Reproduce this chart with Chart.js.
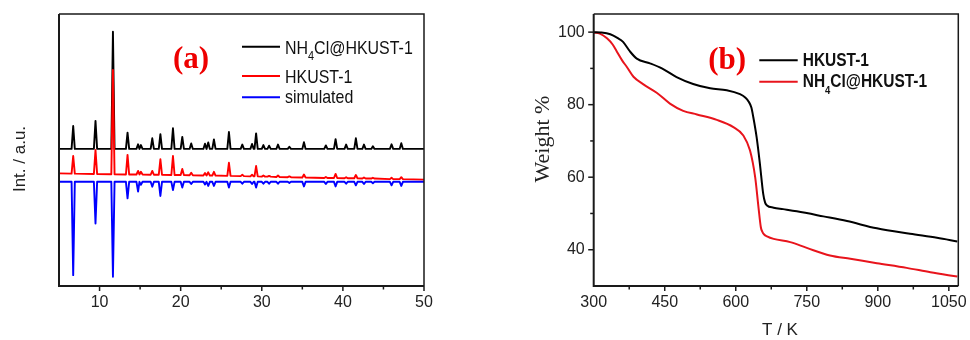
<!DOCTYPE html>
<html><head><meta charset="utf-8">
<script src="https://cdn.jsdelivr.net/npm/chart.js@4.4.0/dist/chart.umd.min.js"></script>
<style>
html,body{margin:0;padding:0;background:#fff;}
body{width:970px;height:340px;position:relative;overflow:hidden;}
canvas{position:absolute;top:0;}
#ca{left:0;} #cb{left:500px;}
</style></head><body>
<canvas id="ca" width="440" height="340"></canvas>
<canvas id="cb" width="470" height="340"></canvas>
<script>
// ---------- Panel (a): XRD patterns ----------
const xrdSeriesNames = ['NH4Cl@HKUST-1', 'HKUST-1', 'simulated'];
const xrdTheta = [5.0,
 6.55,6.75,6.95, 9.3,9.5,9.7, 11.45,11.65,11.85, 13.25,13.45,13.65,
 14.55,14.75,14.92, 14.93,15.1,15.3, 16.3,16.5,16.7, 17.3,17.5,17.7,
 18.85,19.05,19.25, 20.0,20.2,20.4, 21.1,21.3,21.5, 22.8,23.0,23.19,
 23.21,23.4,23.6, 23.9,24.1,24.3, 25.75,25.95,26.15, 27.4,27.6,27.8,
 28.6,28.8,29.0, 29.1,29.3,29.5, 30.0,30.2,30.4, 30.7,30.9,31.1,
 31.8,32.0,32.2, 33.2,33.4,33.6, 35.0,35.2,35.4, 37.7,37.9,38.1,
 38.9,39.1,39.3, 40.2,40.4,40.6, 41.4,41.6,41.8, 42.4,42.6,42.8,
 43.5,43.7,43.9, 45.8,46.0,46.2, 47.0,47.2,47.4,
 50.0];
const xrdComposite = [50.4,
 50.4,58.8,50.4, 50.4,60.7,50.4, 50.4,93.5,50.4, 50.4,56.4,50.4,
 50.4,52.1,50.4, 50.4,51.8,50.4, 50.4,54.3,50.4, 50.4,55.8,50.4,
 50.4,58.0,50.4, 50.4,54.8,50.4, 50.4,52.4,50.4, 50.4,52.3,50.4,
 50.4,52.8,50.4, 50.4,53.9,50.4, 50.4,56.6,50.4, 50.4,52.0,50.4,
 50.4,52.2,50.4, 50.4,56.1,50.4, 50.4,51.8,50.4, 50.4,51.6,50.4,
 50.4,52.0,50.4, 50.4,51.2,50.4, 50.4,52.9,50.4, 50.4,51.7,50.4,
 50.4,54.0,50.4, 50.4,52.0,50.4, 50.4,54.3,50.4, 50.4,52.0,50.4,
 50.4,51.4,50.4, 50.4,52.1,50.4, 50.4,52.5,50.4,
 50.4];
const xrdHkust = [41.4,
 41.3,47.8,41.3, 41.2,50.0,41.2, 41.1,79.4,41.1, 41.0,48.2,41.0,
 41.0,42.3,41.0, 41.0,42.0,41.0, 40.9,42.3,40.9, 40.9,46.6,40.9,
 40.8,47.8,40.8, 40.8,43.0,40.8, 40.7,41.6,40.7, 40.6,41.5,40.6,
 40.6,41.8,40.6, 40.6,42.0,40.6, 40.5,45.3,40.5, 40.4,40.9,40.4,
 40.3,40.9,40.3, 40.3,44.1,40.3, 40.2,40.6,40.2, 40.2,40.5,40.2,
 40.1,40.6,40.1, 40.0,40.3,40.0, 39.9,41.0,39.9, 39.7,40.1,39.7,
 39.7,41.2,39.7, 39.6,40.0,39.6, 39.6,40.8,39.6, 39.5,39.9,39.5,
 39.5,39.8,39.5, 39.3,39.8,39.3, 39.3,40.0,39.3,
 39.1];
const xrdSimulated = [38.3,
 38.3,4.0,38.3, 38.3,23.0,38.3, 38.3,3.4,38.3, 38.3,32.2,38.3,
 38.3,34.7,38.3, 38.3,37.2,38.3, 38.3,36.5,38.3, 38.3,33.1,38.3,
 38.3,35.3,38.3, 38.3,36.2,38.3, 38.3,37.5,38.3, 38.3,37.3,38.3,
 38.3,36.8,38.3, 38.3,36.8,38.3, 38.3,36.2,38.3, 38.3,37.6,38.3,
 38.3,37.5,38.3, 38.3,36.2,38.3, 38.3,37.6,38.3, 38.3,37.6,38.3,
 38.3,37.6,38.3, 38.3,37.9,38.3, 38.3,36.6,38.3, 38.3,37.5,38.3,
 38.3,36.6,38.3, 38.3,37.6,38.3, 38.3,37.0,38.3, 38.3,37.5,38.3,
 38.3,37.8,38.3, 38.3,37.0,38.3, 38.3,36.8,38.3,
 38.3];

// ---------- Panel (b): TGA curves ----------
const tgaSeriesNames = ['HKUST-1', 'NH4Cl@HKUST-1'];
const tgaHkustT = [300,315,335,350,362,377,391,419,444,475,510,546,581,609,620,627,633,637,644,651,658,662,666,680,700,729,785,835,898,968,1025,1068];
const tgaHkustW = [100,99.9,99.4,98.4,97.3,94.6,92.7,91.4,90.0,87.6,85.7,84.5,84.0,82.9,82.0,80.9,79.2,76.6,71.1,63.7,55.4,53.0,52.2,51.6,51.2,50.6,49.2,47.9,45.9,44.4,43.3,42.3];
const tgaCompT = [300,313,328,340,349,360,370,384,405,433,461,489,518,560,595,616,630,641,648,653,656,660,666,680,715,750,799,842,898,961,1011,1068];
const tgaCompW = [99.9,99.6,98.3,96.6,94.6,92.2,90.4,87.7,85.6,83.3,80.3,78.3,77.3,75.8,73.8,71.5,67.4,60.0,51.7,46.2,45.0,44.2,43.7,43.0,42.1,40.5,38.4,37.5,36.3,35.0,33.8,32.6];

const xTickLabelsA = [10, 20, 30, 40, 50];
const xTickLabelsB = [300, 450, 600, 750, 900, 1050];
const yTickLabelsB = [40, 60, 80, 100];

// ---------- helpers ----------
const SANS = '"Liberation Sans", Arial, sans-serif';
const SERIF = '"Liberation Serif", "Times New Roman", serif';
const AXIS = '#1a1a1a';

function pts(xs, ys) { return xs.map((x, i) => ({x: x, y: ys[i]})); }

function labelParts(name) {
  const m = name.match(/^(NH)(4)(.*)$/);
  if (m) return [{t: m[1]}, {t: m[2], sub: true}, {t: m[3]}];
  return [{t: name}];
}

function drawRich(ctx, x, y, name, font, subFont, subDy, sx, color) {
  ctx.save();
  ctx.translate(x, y);
  ctx.scale(sx, 1);
  ctx.fillStyle = color;
  ctx.textBaseline = 'alphabetic';
  ctx.textAlign = 'left';
  let cx = 0;
  for (const p of labelParts(name)) {
    ctx.font = p.sub ? subFont : font;
    ctx.fillText(p.t, cx, p.sub ? subDy : 0);
    cx += ctx.measureText(p.t).width;
  }
  ctx.restore();
}

function framePlugin(cfg) {
  return {
    id: 'frame_' + cfg.id,
    afterDraw(chart) {
      const ctx = chart.ctx, a = chart.chartArea;
      ctx.save();
      ctx.strokeStyle = AXIS;
      ctx.lineWidth = 1.5;
      ctx.beginPath();
      ctx.moveTo(a.left, a.top); ctx.lineTo(a.right, a.top); ctx.lineTo(a.right, a.bottom);
      ctx.stroke();
      ctx.lineWidth = 2;
      ctx.beginPath();
      ctx.moveTo(a.left, a.top); ctx.lineTo(a.left, a.bottom); ctx.lineTo(a.right, a.bottom);
      ctx.stroke();
      ctx.lineWidth = 1.5;
      const xs = chart.scales.x;
      xs.ticks.forEach(t => {
        const px = xs.getPixelForValue(t.value);
        if (px <= a.left + 1) return;
        const len = (t.value % cfg.xMajor === 0) ? 5 : 3.5;
        ctx.beginPath(); ctx.moveTo(px, a.bottom); ctx.lineTo(px, a.bottom + len); ctx.stroke();
      });
      if (cfg.yTicks) {
        const ys = chart.scales.y;
        ys.ticks.forEach(t => {
          const py = ys.getPixelForValue(t.value);
          if (py >= a.bottom - 1) return;
          const len = (t.value % cfg.yMajor === 0) ? 5.5 : 3.5;
          ctx.beginPath(); ctx.moveTo(a.left, py); ctx.lineTo(a.left - len, py); ctx.stroke();
        });
      }
      ctx.fillStyle = '#ee0000';
      ctx.font = 'bold 31px ' + SERIF;
      ctx.textAlign = 'left'; ctx.textBaseline = 'alphabetic';
      ctx.fillText(cfg.tag, cfg.tagX, cfg.tagY);
      cfg.legend.forEach(r => {
        ctx.strokeStyle = r.color; ctx.lineWidth = 2;
        ctx.beginPath(); ctx.moveTo(cfg.lx0, r.ly); ctx.lineTo(cfg.lx1, r.ly); ctx.stroke();
        drawRich(ctx, cfg.tx, r.ty, r.name, cfg.lfont, cfg.lsub, cfg.lsubDy, cfg.lsx, '#111');
      });
      ctx.fillStyle = '#222';
      ctx.font = cfg.ytFont;
      ctx.save();
      ctx.translate(cfg.ytX, cfg.ytY);
      ctx.rotate(-Math.PI / 2);
      ctx.textAlign = 'center'; ctx.textBaseline = 'alphabetic';
      ctx.fillText(cfg.ytText, 0, 0);
      ctx.restore();
      if (cfg.xtText) {
        ctx.font = cfg.xtFont;
        ctx.textAlign = 'center';
        ctx.fillText(cfg.xtText, cfg.xtX, cfg.xtY);
      }
      ctx.restore();
    }
  };
}

const tickFont = {family: SANS, size: 16};

new Chart(document.getElementById('ca'), {
  type: 'line',
  data: {datasets: [
    {label: xrdSeriesNames[0], data: pts(xrdTheta, xrdComposite), borderColor: '#000000', order: 3},
    {label: xrdSeriesNames[1], data: pts(xrdTheta, xrdHkust), borderColor: '#ff0000', order: 2},
    {label: xrdSeriesNames[2], data: pts(xrdTheta, xrdSimulated), borderColor: '#0000ff', order: 1}
  ]},
  options: {
    responsive: false, animation: false, devicePixelRatio: 1,
    layout: {padding: {left: 0, right: 16, top: 14, bottom: 0}},
    plugins: {legend: {display: false}, tooltip: {enabled: false}},
    elements: {point: {radius: 0}, line: {borderWidth: 1.9, tension: 0, borderJoinStyle: 'round'}},
    scales: {
      x: {type: 'linear', min: 5, max: 50,
        ticks: {stepSize: 5, includeBounds: false, autoSkip: false, maxRotation: 0, padding: 7,
          font: tickFont, color: '#222',
          callback: v => xTickLabelsA.includes(v) ? String(v) : ''},
        grid: {display: false, drawTicks: false}, border: {display: false},
        afterFit: s => { s.height = 54; s.paddingLeft = 0; s.paddingRight = 0; }},
      y: {type: 'linear', min: 0, max: 100,
        ticks: {display: false}, grid: {display: false, drawTicks: false}, border: {display: false},
        afterFit: s => { s.width = 59; s.paddingTop = 0; s.paddingBottom = 0; }}
    }
  },
  plugins: [framePlugin({
    id: 'a', xMajor: 10, yTicks: false, tag: '(a)', tagX: 173, tagY: 68,
    lx0: 242, lx1: 280, tx: 285, lfont: '19px ' + SANS, lsub: '13px ' + SANS, lsubDy: 6, lsx: 0.84,
    legend: [
      {name: xrdSeriesNames[0], color: '#000000', ly: 46.7, ty: 54},
      {name: xrdSeriesNames[1], color: '#ff0000', ly: 76, ty: 82.5},
      {name: xrdSeriesNames[2], color: '#0000ff', ly: 97.3, ty: 103.3}
    ],
    ytFont: '17px ' + SANS, ytText: 'Int. / a.u.', ytX: 25, ytY: 159
  })]
});

new Chart(document.getElementById('cb'), {
  type: 'line',
  data: {datasets: [
    {label: tgaSeriesNames[0], data: pts(tgaHkustT, tgaHkustW), borderColor: '#000000'},
    {label: tgaSeriesNames[1], data: pts(tgaCompT, tgaCompW), borderColor: '#e8141c'}
  ]},
  options: {
    responsive: false, animation: false, devicePixelRatio: 1,
    layout: {padding: {left: 0, right: 11.7, top: 14, bottom: 0}},
    plugins: {legend: {display: false}, tooltip: {enabled: false}},
    elements: {point: {radius: 0}, line: {borderWidth: 2, cubicInterpolationMode: 'monotone'}},
    scales: {
      x: {type: 'linear', min: 300, max: 1070,
        ticks: {stepSize: 75, includeBounds: false, autoSkip: false, maxRotation: 0, padding: 7,
          font: tickFont, color: '#222',
          callback: v => xTickLabelsB.includes(v) ? String(v) : ''},
        grid: {display: false, drawTicks: false}, border: {display: false},
        afterFit: s => { s.height = 54; s.paddingLeft = 0; s.paddingRight = 0; }},
      y: {type: 'linear', min: 30, max: 105,
        ticks: {stepSize: 10, includeBounds: false, autoSkip: false, padding: 9,
          font: tickFont, color: '#222',
          callback: v => yTickLabelsB.includes(v) ? String(v) : ''},
        grid: {display: false, drawTicks: false}, border: {display: false},
        afterFit: s => { s.width = 93.7; s.paddingTop = 0; s.paddingBottom = 0; }}
    }
  },
  plugins: [framePlugin({
    id: 'b', xMajor: 150, yTicks: true, yMajor: 20, tag: '(b)', tagX: 208.3, tagY: 68.5,
    lx0: 259.3, lx1: 297.7, tx: 302.7, lfont: 'bold 18px ' + SANS, lsub: 'bold 11px ' + SANS, lsubDy: 7, lsx: 0.86,
    legend: [
      {name: tgaSeriesNames[0], color: '#000000', ly: 60.3, ty: 66},
      {name: tgaSeriesNames[1], color: '#e8141c', ly: 81.7, ty: 87.3}
    ],
    ytFont: '22px ' + SERIF, ytText: 'Weight %', ytX: 49.3, ytY: 139,
    xtFont: '17px ' + SANS, xtText: 'T / K', xtX: 280, xtY: 335
  })]
});
</script>
</body></html>
